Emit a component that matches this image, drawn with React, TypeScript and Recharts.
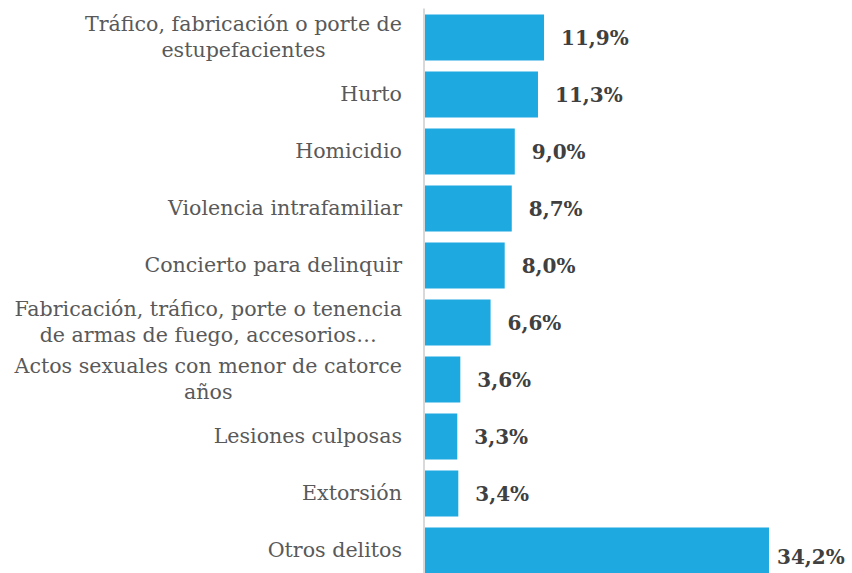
import { Bar, BarChart, LabelList, XAxis, YAxis } from "recharts";

const categories = [
  "Tráfico, fabricación o porte de\nestupefacientes",
  "Hurto",
  "Homicidio",
  "Violencia intrafamiliar",
  "Concierto para delinquir",
  "Fabricación, tráfico, porte o tenencia\nde armas de fuego, accesorios…",
  "Actos sexuales con menor de catorce\naños",
  "Lesiones culposas",
  "Extorsión",
  "Otros delitos",
];

const shares = [11.9, 11.3, 9.0, 8.7, 8.0, 6.6, 3.6, 3.3, 3.4, 34.2];

const data = categories.map((name, i) => ({ name, value: shares[i] }));

const FONT = "'DejaVu Serif', serif";
const TICK_SIZE = 20.6;

const fmt = (v: number) => v.toFixed(1).replace(".", ",") + "%";

let ctx: CanvasRenderingContext2D | null = null;
function measure(s: string) {
  if (!ctx) ctx = document.createElement("canvas").getContext("2d");
  if (!ctx) return s.length * 10;
  ctx.font = `${TICK_SIZE}px ${FONT}`;
  return ctx.measureText(s).width;
}

// multi-line labels: block is right-aligned, lines centred inside it
function CategoryTick({ x, y, payload }: any) {
  const lines = String(payload.value).split("\n");
  const lh = 26;
  const start = y - ((lines.length - 1) * lh) / 2;
  const blockW = Math.max(...lines.map(measure));
  const cx = lines.length > 1 ? x - blockW / 2 : x;
  return (
    <text
      x={cx}
      y={start}
      textAnchor={lines.length > 1 ? "middle" : "end"}
      fill="#595959"
      fontFamily={FONT}
      fontSize={TICK_SIZE}
    >
      {lines.map((l, i) => (
        <tspan key={i} x={cx} y={start + i * lh} dy="0.36em">
          {l}
        </tspan>
      ))}
    </text>
  );
}

function ValueLabel({ x, y, width, height, value }: any) {
  const text = fmt(Number(value));
  const est = text.length * 14.6;
  let tx = x + width + 17;
  let cy = y + height / 2;
  // keep the label inside the picture
  if (tx + est > 850) {
    tx = 850 - est;
    cy += 6;
  }
  return (
    <text
      x={tx}
      y={cy}
      dy="0.38em"
      fill="#404040"
      fontFamily={FONT}
      fontWeight="bold"
      fontSize={20}
    >
      {text}
    </text>
  );
}

export default function App() {
  return (
    <div
      style={{
        position: "absolute",
        left: 0,
        top: 0,
        width: 852,
        height: 573,
        overflow: "hidden",
        background: "#fff",
      }}
    >
      <BarChart
        width={852}
        height={580}
        data={data}
        layout="vertical"
        margin={{ top: 8.5, right: 24.5, bottom: 1.5, left: 0 }}
      >
        <XAxis type="number" domain={[0, 40]} hide />
        <YAxis
          type="category"
          dataKey="name"
          width={424}
          interval={0}
          tickLine={false}
          tickSize={6}
          tickMargin={16}
          axisLine={{ stroke: "#d9d9d9", strokeWidth: 2 }}
          tick={<CategoryTick />}
        />
        <Bar dataKey="value" fill="#1eaae1" barSize={46} isAnimationActive={false}>
          <LabelList dataKey="value" content={<ValueLabel />} />
        </Bar>
      </BarChart>
    </div>
  );
}
